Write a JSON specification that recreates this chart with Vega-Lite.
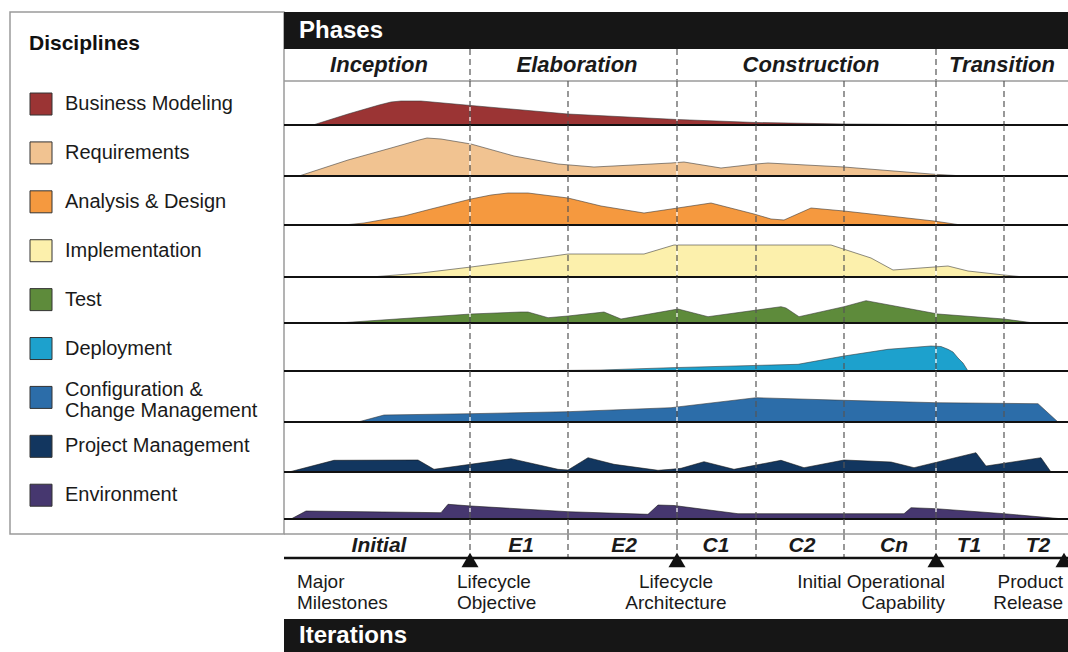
{
"$schema": "https://vega.github.io/schema/vega-lite/v6.json",
"padding": {"left": 9, "top": 11, "right": 0, "bottom": 0},
"bounds": "flush",
"spacing": 0,
"config": {"view": {"stroke": null}, "font": "Liberation Sans", "concat": {"spacing": 0}},
"datasets": {
"disc": [
{"d": "BM", "label": "Business Modeling"},
{"d": "REQ", "label": "Requirements"},
{"d": "AD", "label": "Analysis & Design"},
{"d": "IMP", "label": "Implementation"},
{"d": "TST", "label": "Test"},
{"d": "DEP", "label": "Deployment"},
{"d": "CCM", "label": "Configuration &\nChange Management"},
{"d": "PM", "label": "Project Management"},
{"d": "ENV", "label": "Environment"}
],
"bounds": [
{"t": 186, "kind": "phase"}, {"t": 284, "kind": "iteration"}, {"t": 393, "kind": "phase"},
{"t": 472, "kind": "iteration"}, {"t": 560, "kind": "iteration"}, {"t": 652, "kind": "phase"},
{"t": 720, "kind": "iteration"}
],
"phases": [
{"name": "Inception", "t": 95}, {"name": "Elaboration", "t": 293},
{"name": "Construction", "t": 527}, {"name": "Transition", "t": 718}
],
"iters": [
{"name": "Initial", "t": 95}, {"name": "E1", "t": 237}, {"name": "E2", "t": 340},
{"name": "C1", "t": 432}, {"name": "C2", "t": 518}, {"name": "Cn", "t": 610},
{"name": "T1", "t": 685}, {"name": "T2", "t": 754}
],
"milestones": [
{"name": "Lifecycle\nObjective", "t": 186},
{"name": "Lifecycle\nArchitecture", "t": 393},
{"name": "Initial Operational\nCapability", "t": 652},
{"name": "Product\nRelease", "t": 780}
],
"curves": [
{"d":"BM","t":29,"v":0},{"d":"BM","t":64,"v":11},{"d":"BM","t":95,"v":20},{"d":"BM","t":107,"v":23},{"d":"BM","t":117,"v":24},{"d":"BM","t":137,"v":24},{"d":"BM","t":187,"v":19.5},{"d":"BM","t":284,"v":11},{"d":"BM","t":393,"v":5.5},{"d":"BM","t":472,"v":2.5},{"d":"BM","t":560,"v":1},{"d":"BM","t":650,"v":0.3},{"d":"BM","t":677,"v":0},
{"d":"REQ","t":15,"v":0},{"d":"REQ","t":64,"v":16},{"d":"REQ","t":107,"v":28},{"d":"REQ","t":135,"v":36},{"d":"REQ","t":143,"v":38},{"d":"REQ","t":157,"v":37},{"d":"REQ","t":187,"v":32},{"d":"REQ","t":230,"v":20},{"d":"REQ","t":274,"v":12},{"d":"REQ","t":310,"v":9},{"d":"REQ","t":387,"v":13},{"d":"REQ","t":400,"v":14},{"d":"REQ","t":437,"v":8},{"d":"REQ","t":472,"v":12},{"d":"REQ","t":484,"v":13},{"d":"REQ","t":560,"v":9},{"d":"REQ","t":647,"v":2},{"d":"REQ","t":680,"v":0},
{"d":"AD","t":60,"v":0},{"d":"AD","t":80,"v":2},{"d":"AD","t":120,"v":9},{"d":"AD","t":147,"v":16},{"d":"AD","t":187,"v":26},{"d":"AD","t":207,"v":30},{"d":"AD","t":224,"v":32},{"d":"AD","t":244,"v":32},{"d":"AD","t":284,"v":27},{"d":"AD","t":317,"v":19},{"d":"AD","t":360,"v":12},{"d":"AD","t":387,"v":16},{"d":"AD","t":427,"v":22},{"d":"AD","t":470,"v":11},{"d":"AD","t":487,"v":6},{"d":"AD","t":500,"v":5},{"d":"AD","t":527,"v":17},{"d":"AD","t":560,"v":14},{"d":"AD","t":650,"v":4},{"d":"AD","t":677,"v":0},
{"d":"IMP","t":87,"v":0},{"d":"IMP","t":137,"v":4},{"d":"IMP","t":187,"v":10},{"d":"IMP","t":237,"v":16.5},{"d":"IMP","t":284,"v":23},{"d":"IMP","t":360,"v":23},{"d":"IMP","t":390,"v":32},{"d":"IMP","t":547,"v":32},{"d":"IMP","t":587,"v":19},{"d":"IMP","t":609,"v":7},{"d":"IMP","t":664,"v":11},{"d":"IMP","t":684,"v":6},{"d":"IMP","t":720,"v":2},{"d":"IMP","t":740,"v":0},
{"d":"TST","t":54,"v":0},{"d":"TST","t":120,"v":4.5},{"d":"TST","t":187,"v":9},{"d":"TST","t":237,"v":11},{"d":"TST","t":244,"v":11},{"d":"TST","t":264,"v":5.3},{"d":"TST","t":284,"v":7},{"d":"TST","t":320,"v":11},{"d":"TST","t":337,"v":4},{"d":"TST","t":394,"v":14},{"d":"TST","t":424,"v":6.3},{"d":"TST","t":497,"v":16.3},{"d":"TST","t":502,"v":15},{"d":"TST","t":515,"v":6.3},{"d":"TST","t":560,"v":16.3},{"d":"TST","t":582,"v":22.3},{"d":"TST","t":654,"v":9},{"d":"TST","t":720,"v":4},{"d":"TST","t":750,"v":0},
{"d":"DEP","t":230,"v":0},{"d":"DEP","t":317,"v":1},{"d":"DEP","t":387,"v":3.3},{"d":"DEP","t":514,"v":6.7},{"d":"DEP","t":560,"v":15},{"d":"DEP","t":604,"v":21.7},{"d":"DEP","t":647,"v":25},{"d":"DEP","t":657,"v":24.5},{"d":"DEP","t":664,"v":21.7},{"d":"DEP","t":669,"v":19},{"d":"DEP","t":674,"v":13},{"d":"DEP","t":679,"v":8},{"d":"DEP","t":684,"v":0},
{"d":"CCM","t":74,"v":0},{"d":"CCM","t":100,"v":7},{"d":"CCM","t":187,"v":8.3},{"d":"CCM","t":284,"v":10.3},{"d":"CCM","t":387,"v":14.3},{"d":"CCM","t":472,"v":24.3},{"d":"CCM","t":560,"v":21.7},{"d":"CCM","t":652,"v":19.3},{"d":"CCM","t":754,"v":18.3},{"d":"CCM","t":774,"v":0},
{"d":"PM","t":5,"v":0},{"d":"PM","t":50,"v":11.7},{"d":"PM","t":134,"v":12},{"d":"PM","t":150,"v":2.7},{"d":"PM","t":174,"v":6},{"d":"PM","t":227,"v":13.3},{"d":"PM","t":274,"v":2.7},{"d":"PM","t":284,"v":2},{"d":"PM","t":304,"v":14.3},{"d":"PM","t":330,"v":7.7},{"d":"PM","t":374,"v":1.7},{"d":"PM","t":387,"v":2.7},{"d":"PM","t":397,"v":3.7},{"d":"PM","t":420,"v":10.3},{"d":"PM","t":450,"v":2.7},{"d":"PM","t":497,"v":11.7},{"d":"PM","t":520,"v":4.3},{"d":"PM","t":560,"v":12},{"d":"PM","t":607,"v":10},{"d":"PM","t":630,"v":4.3},{"d":"PM","t":692,"v":19.3},{"d":"PM","t":702,"v":6},{"d":"PM","t":757,"v":14.3},{"d":"PM","t":767,"v":0},
{"d":"ENV","t":7,"v":0},{"d":"ENV","t":22,"v":8},{"d":"ENV","t":157,"v":6.3},{"d":"ENV","t":164,"v":14.7},{"d":"ENV","t":187,"v":13},{"d":"ENV","t":284,"v":7.3},{"d":"ENV","t":364,"v":4.7},{"d":"ENV","t":374,"v":14},{"d":"ENV","t":390,"v":13.5},{"d":"ENV","t":454,"v":5.3},{"d":"ENV","t":620,"v":5.3},{"d":"ENV","t":627,"v":11.3},{"d":"ENV","t":652,"v":10.3},{"d":"ENV","t":720,"v":5.3},{"d":"ENV","t":780,"v":0}
]
},
"hconcat": [
{
"width": 274, "height": 522,
"view": {"stroke": "#9a9a9a", "strokeWidth": 1.5, "fill": "white"},
"title": {"text": "Disciplines", "anchor": "start", "offset": -59, "dx": 19, "fontSize": 21, "fontWeight": "bold", "color": "#111111", "baseline": "alphabetic"},
"data": {"name": "disc"},
"encoding": {
"y": {"field": "d", "type": "nominal", "sort": null, "scale": {"type": "band", "paddingInner": 0, "paddingOuter": 0.8375, "align": 0.825}, "axis": null},
"x": {"datum": 0, "type": "quantitative", "scale": {"domain": [0, 1], "nice": false}, "axis": null}
},
"layer": [
{"mark": {"type": "point", "shape": "square", "filled": true, "size": 484, "stroke": "#333333", "strokeWidth": 1, "opacity": 1, "xOffset": 31},
"encoding": {"fill": {"field": "d", "type": "nominal", "sort": null, "legend": null,
"scale": {"domain": ["BM","REQ","AD","IMP","TST","DEP","CCM","PM","ENV"], "range": ["#9B3434","#F1C391","#F5993F","#FCF0AC","#5E8B3B","#1DA1CD","#2C6DA9","#12365F","#46376F"]}}}},
{"transform": [{"filter": "datum.d !== 'CCM'"}],
"mark": {"type": "text", "align": "left", "baseline": "middle", "fontSize": 20, "color": "#1a1a1a", "dx": 55},
"encoding": {"text": {"field": "label", "type": "nominal"}}},
{"transform": [{"filter": "datum.d === 'CCM'"}],
"mark": {"type": "text", "align": "left", "baseline": "middle", "fontSize": 20, "lineBreak": "\n", "lineHeight": 20.5, "color": "#1a1a1a", "dx": 55, "dy": -7},
"encoding": {"text": {"field": "label", "type": "nominal"}}}
]
},
{
"spacing": 0,
"bounds": "flush",
"vconcat": [
{"width": 785, "height": 37, "view": {"fill": "#161616", "stroke": null},
"data": {"values": [{"label": "Phases"}]},
"mark": {"type": "text", "align": "left", "baseline": "middle", "fontSize": 24, "fontWeight": "bold", "color": "white", "dx": 15},
"encoding": {"x": {"datum": 0, "type": "quantitative", "scale": {"domain": [0, 785], "nice": false}, "axis": null}, "text": {"field": "label", "type": "nominal"}}},
{"width": 785, "height": 32,
"layer": [
{"data": {"name": "bounds"}, "transform": [{"filter": "datum.kind === 'phase'"}], "mark": {"type": "rule", "color": "#555555", "strokeDash": [6, 4], "strokeWidth": 1.2},
"encoding": {"x": {"field": "t", "type": "quantitative", "scale": {"domain": [0, 785], "nice": false}, "axis": null}}},
{"data": {"values": [{}]}, "mark": {"type": "rule", "color": "#9a9a9a", "strokeWidth": 1.5},
"encoding": {"y": {"datum": 0, "type": "quantitative", "scale": {"domain": [0, 1], "nice": false}, "axis": null}}},
{"data": {"name": "phases"}, "mark": {"type": "text", "baseline": "middle", "fontSize": 22, "fontWeight": "bold", "fontStyle": "italic", "color": "#1a1a1a"},
"encoding": {"x": {"field": "t", "type": "quantitative"}, "text": {"field": "name", "type": "nominal"}}}
]},
{"width": 785, "height": 44, "layer": [
{"data": {"name": "curves"}, "transform": [{"filter": "datum.d === 'BM'"}], "mark": {"type": "area", "color": "#9B3434", "stroke": "#333333", "strokeWidth": 0.8, "strokeOpacity": 0.7},
"encoding": {"x": {"field": "t", "type": "quantitative", "scale": {"domain": [0, 785], "nice": false}, "axis": null}, "y": {"field": "v", "type": "quantitative", "scale": {"domain": [0, 44], "nice": false}, "axis": null}}},
{"data": {"name": "bounds"}, "mark": {"type": "rule", "color": "#555555", "strokeDash": [6, 4], "strokeWidth": 1.2}, "encoding": {"x": {"field": "t", "type": "quantitative"}}},
{"data": {"name": "bounds"}, "transform": [{"filter": "datum.kind === 'phase'"}], "mark": {"type": "rule", "color": "white", "strokeDash": [4, 6], "strokeDashOffset": 4, "strokeWidth": 1.2}, "encoding": {"x": {"field": "t", "type": "quantitative"}}},
{"data": {"values": [{}]}, "mark": {"type": "rule", "color": "#111111", "strokeWidth": 2}, "encoding": {"y": {"datum": 0, "type": "quantitative"}}}
]},
{"width": 785, "height": 51, "layer": [
{"data": {"name": "curves"}, "transform": [{"filter": "datum.d === 'REQ'"}], "mark": {"type": "area", "color": "#F1C391", "stroke": "#333333", "strokeWidth": 0.8, "strokeOpacity": 0.7},
"encoding": {"x": {"field": "t", "type": "quantitative", "scale": {"domain": [0, 785], "nice": false}, "axis": null}, "y": {"field": "v", "type": "quantitative", "scale": {"domain": [0, 51], "nice": false}, "axis": null}}},
{"data": {"name": "bounds"}, "mark": {"type": "rule", "color": "#555555", "strokeDash": [6, 4], "strokeWidth": 1.2}, "encoding": {"x": {"field": "t", "type": "quantitative"}}},
{"data": {"name": "bounds"}, "transform": [{"filter": "datum.kind === 'phase'"}], "mark": {"type": "rule", "color": "white", "strokeDash": [4, 6], "strokeDashOffset": 4, "strokeWidth": 1.2}, "encoding": {"x": {"field": "t", "type": "quantitative"}}},
{"data": {"values": [{}]}, "mark": {"type": "rule", "color": "#111111", "strokeWidth": 2}, "encoding": {"y": {"datum": 0, "type": "quantitative"}}}
]},
{"width": 785, "height": 49, "layer": [
{"data": {"name": "curves"}, "transform": [{"filter": "datum.d === 'AD'"}], "mark": {"type": "area", "color": "#F5993F", "stroke": "#333333", "strokeWidth": 0.8, "strokeOpacity": 0.7},
"encoding": {"x": {"field": "t", "type": "quantitative", "scale": {"domain": [0, 785], "nice": false}, "axis": null}, "y": {"field": "v", "type": "quantitative", "scale": {"domain": [0, 49], "nice": false}, "axis": null}}},
{"data": {"name": "bounds"}, "mark": {"type": "rule", "color": "#555555", "strokeDash": [6, 4], "strokeWidth": 1.2}, "encoding": {"x": {"field": "t", "type": "quantitative"}}},
{"data": {"name": "bounds"}, "transform": [{"filter": "datum.kind === 'phase'"}], "mark": {"type": "rule", "color": "white", "strokeDash": [4, 6], "strokeDashOffset": 4, "strokeWidth": 1.2}, "encoding": {"x": {"field": "t", "type": "quantitative"}}},
{"data": {"values": [{}]}, "mark": {"type": "rule", "color": "#111111", "strokeWidth": 2}, "encoding": {"y": {"datum": 0, "type": "quantitative"}}}
]},
{"width": 785, "height": 52, "layer": [
{"data": {"name": "curves"}, "transform": [{"filter": "datum.d === 'IMP'"}], "mark": {"type": "area", "color": "#FCF0AC", "stroke": "#333333", "strokeWidth": 0.8, "strokeOpacity": 0.7},
"encoding": {"x": {"field": "t", "type": "quantitative", "scale": {"domain": [0, 785], "nice": false}, "axis": null}, "y": {"field": "v", "type": "quantitative", "scale": {"domain": [0, 52], "nice": false}, "axis": null}}},
{"data": {"name": "bounds"}, "mark": {"type": "rule", "color": "#555555", "strokeDash": [6, 4], "strokeWidth": 1.2}, "encoding": {"x": {"field": "t", "type": "quantitative"}}},
{"data": {"name": "bounds"}, "transform": [{"filter": "datum.kind === 'phase'"}], "mark": {"type": "rule", "color": "white", "strokeDash": [4, 6], "strokeDashOffset": 4, "strokeWidth": 1.2}, "encoding": {"x": {"field": "t", "type": "quantitative"}}},
{"data": {"values": [{}]}, "mark": {"type": "rule", "color": "#111111", "strokeWidth": 2}, "encoding": {"y": {"datum": 0, "type": "quantitative"}}}
]},
{"width": 785, "height": 46, "layer": [
{"data": {"name": "curves"}, "transform": [{"filter": "datum.d === 'TST'"}], "mark": {"type": "area", "color": "#5E8B3B", "stroke": "#333333", "strokeWidth": 0.8, "strokeOpacity": 0.7},
"encoding": {"x": {"field": "t", "type": "quantitative", "scale": {"domain": [0, 785], "nice": false}, "axis": null}, "y": {"field": "v", "type": "quantitative", "scale": {"domain": [0, 46], "nice": false}, "axis": null}}},
{"data": {"name": "bounds"}, "mark": {"type": "rule", "color": "#555555", "strokeDash": [6, 4], "strokeWidth": 1.2}, "encoding": {"x": {"field": "t", "type": "quantitative"}}},
{"data": {"name": "bounds"}, "transform": [{"filter": "datum.kind === 'phase'"}], "mark": {"type": "rule", "color": "white", "strokeDash": [4, 6], "strokeDashOffset": 4, "strokeWidth": 1.2}, "encoding": {"x": {"field": "t", "type": "quantitative"}}},
{"data": {"values": [{}]}, "mark": {"type": "rule", "color": "#111111", "strokeWidth": 2}, "encoding": {"y": {"datum": 0, "type": "quantitative"}}}
]},
{"width": 785, "height": 48, "layer": [
{"data": {"name": "curves"}, "transform": [{"filter": "datum.d === 'DEP'"}], "mark": {"type": "area", "color": "#1DA1CD", "stroke": "#333333", "strokeWidth": 0.8, "strokeOpacity": 0.7},
"encoding": {"x": {"field": "t", "type": "quantitative", "scale": {"domain": [0, 785], "nice": false}, "axis": null}, "y": {"field": "v", "type": "quantitative", "scale": {"domain": [0, 48], "nice": false}, "axis": null}}},
{"data": {"name": "bounds"}, "mark": {"type": "rule", "color": "#555555", "strokeDash": [6, 4], "strokeWidth": 1.2}, "encoding": {"x": {"field": "t", "type": "quantitative"}}},
{"data": {"name": "bounds"}, "transform": [{"filter": "datum.kind === 'phase'"}], "mark": {"type": "rule", "color": "white", "strokeDash": [4, 6], "strokeDashOffset": 4, "strokeWidth": 1.2}, "encoding": {"x": {"field": "t", "type": "quantitative"}}},
{"data": {"values": [{}]}, "mark": {"type": "rule", "color": "#111111", "strokeWidth": 2}, "encoding": {"y": {"datum": 0, "type": "quantitative"}}}
]},
{"width": 785, "height": 51, "layer": [
{"data": {"name": "curves"}, "transform": [{"filter": "datum.d === 'CCM'"}], "mark": {"type": "area", "color": "#2C6DA9", "stroke": "#333333", "strokeWidth": 0.8, "strokeOpacity": 0.7},
"encoding": {"x": {"field": "t", "type": "quantitative", "scale": {"domain": [0, 785], "nice": false}, "axis": null}, "y": {"field": "v", "type": "quantitative", "scale": {"domain": [0, 51], "nice": false}, "axis": null}}},
{"data": {"name": "bounds"}, "mark": {"type": "rule", "color": "#555555", "strokeDash": [6, 4], "strokeWidth": 1.2}, "encoding": {"x": {"field": "t", "type": "quantitative"}}},
{"data": {"name": "bounds"}, "transform": [{"filter": "datum.kind === 'phase'"}], "mark": {"type": "rule", "color": "white", "strokeDash": [4, 6], "strokeDashOffset": 4, "strokeWidth": 1.2}, "encoding": {"x": {"field": "t", "type": "quantitative"}}},
{"data": {"values": [{}]}, "mark": {"type": "rule", "color": "#111111", "strokeWidth": 2}, "encoding": {"y": {"datum": 0, "type": "quantitative"}}}
]},
{"width": 785, "height": 50, "layer": [
{"data": {"name": "curves"}, "transform": [{"filter": "datum.d === 'PM'"}], "mark": {"type": "area", "color": "#12365F", "stroke": "#111111", "strokeWidth": 0.8, "strokeOpacity": 0.7},
"encoding": {"x": {"field": "t", "type": "quantitative", "scale": {"domain": [0, 785], "nice": false}, "axis": null}, "y": {"field": "v", "type": "quantitative", "scale": {"domain": [0, 50], "nice": false}, "axis": null}}},
{"data": {"name": "bounds"}, "mark": {"type": "rule", "color": "#555555", "strokeDash": [6, 4], "strokeWidth": 1.2}, "encoding": {"x": {"field": "t", "type": "quantitative"}}},
{"data": {"name": "bounds"}, "transform": [{"filter": "datum.kind === 'phase'"}], "mark": {"type": "rule", "color": "white", "strokeDash": [4, 6], "strokeDashOffset": 4, "strokeWidth": 1.2}, "encoding": {"x": {"field": "t", "type": "quantitative"}}},
{"data": {"values": [{}]}, "mark": {"type": "rule", "color": "#111111", "strokeWidth": 2}, "encoding": {"y": {"datum": 0, "type": "quantitative"}}}
]},
{"width": 785, "height": 47, "layer": [
{"data": {"name": "curves"}, "transform": [{"filter": "datum.d === 'ENV'"}], "mark": {"type": "area", "color": "#46376F", "stroke": "#111111", "strokeWidth": 0.8, "strokeOpacity": 0.7},
"encoding": {"x": {"field": "t", "type": "quantitative", "scale": {"domain": [0, 785], "nice": false}, "axis": null}, "y": {"field": "v", "type": "quantitative", "scale": {"domain": [0, 47], "nice": false}, "axis": null}}},
{"data": {"name": "bounds"}, "mark": {"type": "rule", "color": "#555555", "strokeDash": [6, 4], "strokeWidth": 1.2}, "encoding": {"x": {"field": "t", "type": "quantitative"}}},
{"data": {"name": "bounds"}, "transform": [{"filter": "datum.kind === 'phase'"}], "mark": {"type": "rule", "color": "white", "strokeDash": [4, 6], "strokeDashOffset": 4, "strokeWidth": 1.2}, "encoding": {"x": {"field": "t", "type": "quantitative"}}},
{"data": {"values": [{}]}, "mark": {"type": "rule", "color": "#111111", "strokeWidth": 2}, "encoding": {"y": {"datum": 0, "type": "quantitative"}}}
]},
{"width": 785, "height": 15,
"data": {"name": "bounds"}, "mark": {"type": "rule", "color": "#555555", "strokeDash": [6, 4], "strokeWidth": 1.2},
"encoding": {"x": {"field": "t", "type": "quantitative", "scale": {"domain": [0, 785], "nice": false}, "axis": null}}},
{"width": 785, "height": 24, "layer": [
{"data": {"name": "bounds"}, "mark": {"type": "rule", "color": "#555555", "strokeDash": [6, 4], "strokeWidth": 1.2},
"encoding": {"x": {"field": "t", "type": "quantitative", "scale": {"domain": [0, 785], "nice": false}, "axis": null}}},
{"data": {"values": [{}]}, "mark": {"type": "rule", "color": "#9a9a9a", "strokeWidth": 1.5},
"encoding": {"y": {"datum": 1, "type": "quantitative", "scale": {"domain": [0, 1], "nice": false}, "axis": null}}},
{"data": {"values": [{}]}, "mark": {"type": "rule", "color": "#111111", "strokeWidth": 2.5},
"encoding": {"y": {"datum": 0, "type": "quantitative"}}},
{"data": {"name": "iters"}, "mark": {"type": "text", "baseline": "middle", "fontSize": 21, "fontWeight": "bold", "fontStyle": "italic", "color": "#1a1a1a"},
"encoding": {"x": {"field": "t", "type": "quantitative"}, "text": {"field": "name", "type": "nominal"}}},
{"data": {"name": "milestones"}, "mark": {"type": "point", "shape": "triangle-up", "filled": true, "size": 290, "color": "#111111", "opacity": 1, "yOffset": 2},
"encoding": {"x": {"field": "t", "type": "quantitative"}, "y": {"datum": 0, "type": "quantitative"}}}
]},
{"width": 785, "height": 61,
"encoding": {"x": {"field": "t", "type": "quantitative", "scale": {"domain": [0, 785], "nice": false}, "axis": null}, "text": {"field": "name", "type": "nominal"}},
"layer": [
{"data": {"values": [{"name": "Major\nMilestones", "t": 0}]}, "mark": {"type": "text", "align": "left", "baseline": "middle", "fontSize": 19, "lineBreak": "\n", "lineHeight": 21, "color": "#1a1a1a", "dx": 13, "dy": -7}},
{"data": {"name": "milestones"}, "transform": [{"filter": "datum.t == 186"}], "mark": {"type": "text", "align": "left", "baseline": "middle", "fontSize": 19, "lineBreak": "\n", "lineHeight": 21, "color": "#1a1a1a", "dx": -13, "dy": -7}},
{"data": {"name": "milestones"}, "transform": [{"filter": "datum.t == 393"}], "mark": {"type": "text", "align": "center", "baseline": "middle", "fontSize": 19, "lineBreak": "\n", "lineHeight": 21, "color": "#1a1a1a", "dx": -1, "dy": -7}},
{"data": {"name": "milestones"}, "transform": [{"filter": "datum.t == 652"}], "mark": {"type": "text", "align": "right", "baseline": "middle", "fontSize": 19, "lineBreak": "\n", "lineHeight": 21, "color": "#1a1a1a", "dx": 9, "dy": -7}},
{"data": {"name": "milestones"}, "transform": [{"filter": "datum.t == 780"}], "mark": {"type": "text", "align": "right", "baseline": "middle", "fontSize": 19, "lineBreak": "\n", "lineHeight": 21, "color": "#1a1a1a", "dx": -1, "dy": -7}}
]},
{"width": 785, "height": 34, "view": {"fill": "#161616", "stroke": null},
"data": {"values": [{"label": "Iterations"}]},
"mark": {"type": "text", "align": "left", "baseline": "middle", "fontSize": 24, "fontWeight": "bold", "color": "white", "dx": 15},
"encoding": {"x": {"datum": 0, "type": "quantitative", "scale": {"domain": [0, 785], "nice": false}, "axis": null}, "text": {"field": "label", "type": "nominal"}}}
]
}
]
}
